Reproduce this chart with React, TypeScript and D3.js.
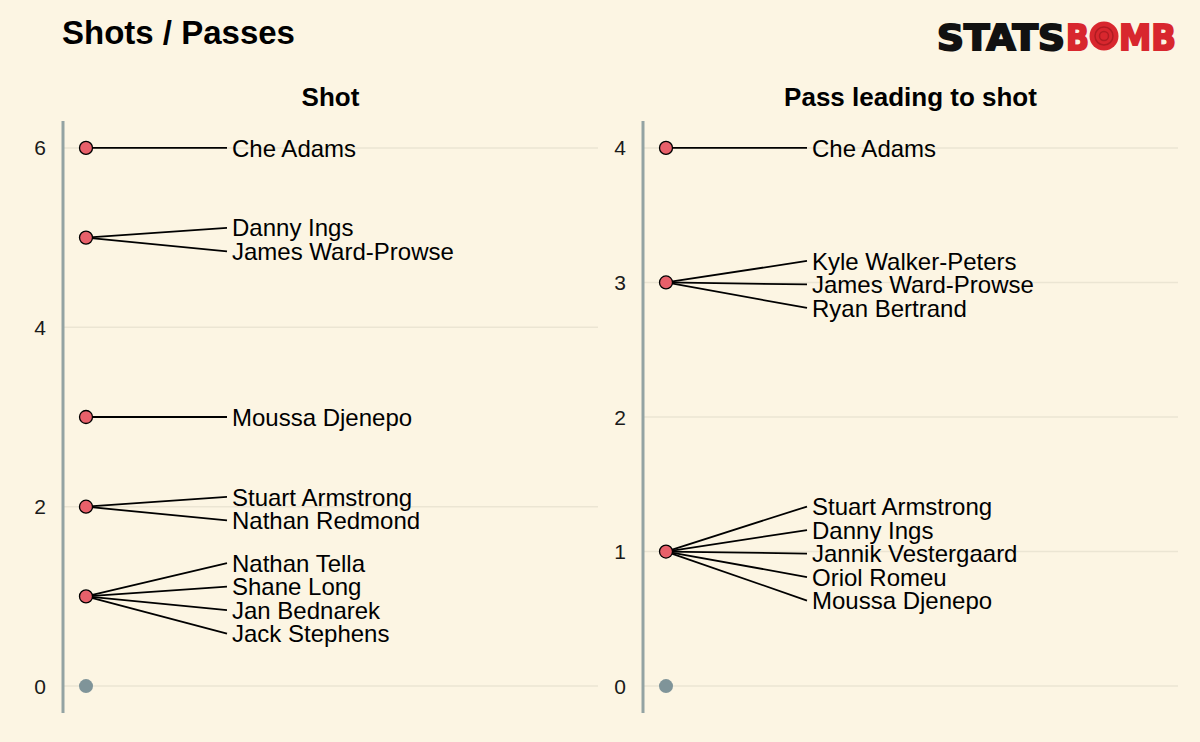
import React from 'react';
import * as d3 from 'd3';

// Shots (left facet)
const shotPlayers = ['Che Adams', 'Danny Ings', 'James Ward-Prowse', 'Moussa Djenepo', 'Stuart Armstrong', 'Nathan Redmond', 'Nathan Tella', 'Shane Long', 'Jan Bednarek', 'Jack Stephens'];
const shotValues = [6, 5, 5, 3, 2, 2, 1, 1, 1, 1];
const shotTicks = [0, 2, 4, 6];

// Passes leading to shot (right facet)
const passPlayers = ['Che Adams', 'Kyle Walker-Peters', 'James Ward-Prowse', 'Ryan Bertrand', 'Stuart Armstrong', 'Danny Ings', 'Jannik Vestergaard', 'Oriol Romeu', 'Moussa Djenepo'];
const passValues = [4, 3, 3, 3, 1, 1, 1, 1, 1];
const passTicks = [0, 1, 2, 3, 4];

const W = 1200;
const H = 742;
const BG = '#fcf5e3';
const FONT = '"Liberation Sans", Arial, sans-serif';

interface FacetProps {
  title: string;
  players: string[];
  values: number[];
  ticks: number[];
  x0: number;
  x1: number;
}

function Facet({ title, players, values, ticks, x0, x1 }: FacetProps) {
  const maxV = d3.max(values)!;
  const pad = maxV * 0.05;
  const y = d3.scaleLinear().domain([-pad, maxV + pad]).range([713, 121]);
  const pointX = x0 + 23;
  const labelX = x0 + 169;
  const spacing = 23.5;

  // group labels by value, stack them centred on the point
  const groups = d3.group(players.map((p, i) => ({ p, v: values[i] })), d => d.v);
  const labels: { p: string; v: number; ly: number }[] = [];
  groups.forEach(arr => {
    const n = arr.length;
    arr.forEach((d, i) => {
      labels.push({ ...d, ly: y(d.v) + (i - (n - 1) / 2) * spacing + (n > 1 ? 2 : 0) });
    });
  });
  const uniq = Array.from(groups.keys());

  return (
    <g>
      <text x={(x0 + x1) / 2} y={106} textAnchor="middle" fontSize={26} fontWeight="bold" fill="#000" fontFamily={FONT}>{title}</text>
      {ticks.map(t => (
        <g key={t}>
          <line x1={x0} x2={x1} y1={y(t)} y2={y(t)} stroke="#ebe5d3" strokeWidth={1.5} />
          <text x={x0 - 17} y={y(t)} dy="0.36em" textAnchor="end" fontSize={21} fill="#1a1a1a" fontFamily={FONT}>{t}</text>
        </g>
      ))}
      <line x1={x0} x2={x0} y1={y.range()[0]} y2={y.range()[1]} stroke="#93a3a3" strokeWidth={3} />
      {labels.map(d => (
        <g key={d.p}>
          <line x1={pointX} y1={y(d.v)} x2={labelX - 5} y2={d.ly} stroke="#000" strokeWidth={1.8} />
          <text x={labelX} y={d.ly} dy="0.36em" fontSize={24} fill="#000" fontFamily={FONT}>{d.p}</text>
        </g>
      ))}
      {uniq.map(v => (
        <circle key={v} cx={pointX} cy={y(v)} r={6.5} fill="#e8606a" stroke="#000" strokeWidth={1.3} />
      ))}
      <circle cx={pointX} cy={y(0)} r={7} fill="#7f9499" />
    </g>
  );
}

function Logo() {
  const x = 937;
  const yb = 50;
  return (
    <g fontFamily={'"DejaVu Sans", sans-serif'} fontWeight="bold" fontSize={35}>
      <text x={x} y={yb} textLength={128} lengthAdjust="spacingAndGlyphs" fill="#111" stroke="#111" strokeWidth={2}>STATS</text>
      <text x={1066} y={yb} textLength={23} lengthAdjust="spacingAndGlyphs" fill="#d8272e" stroke="#d8272e" strokeWidth={2}>B</text>
      <circle cx={1104} cy={36} r={14.5} fill="#d8272e" />
      <circle cx={1104} cy={36} r={9} fill="none" stroke="#b01c22" strokeWidth={1.5} />
      <circle cx={1104} cy={36} r={4.5} fill="none" stroke="#b01c22" strokeWidth={1.5} />
      <text x={1119} y={yb} textLength={57} lengthAdjust="spacingAndGlyphs" fill="#d8272e" stroke="#d8272e" strokeWidth={2}>MB</text>
    </g>
  );
}

export default function App() {
  return (
    <svg width={W} height={H} style={{ display: 'block', position: 'absolute', left: 0, top: 0 }}>
      <rect width={W} height={H} fill={BG} />
      <text x={62} y={44} fontSize={33} fontWeight="bold" fill="#000" fontFamily={FONT}>Shots / Passes</text>
      <Logo />
      <Facet title="Shot" players={shotPlayers} values={shotValues} ticks={shotTicks} x0={63} x1={598} />
      <Facet title="Pass leading to shot" players={passPlayers} values={passValues} ticks={passTicks} x0={643} x1={1178} />
    </svg>
  );
}
